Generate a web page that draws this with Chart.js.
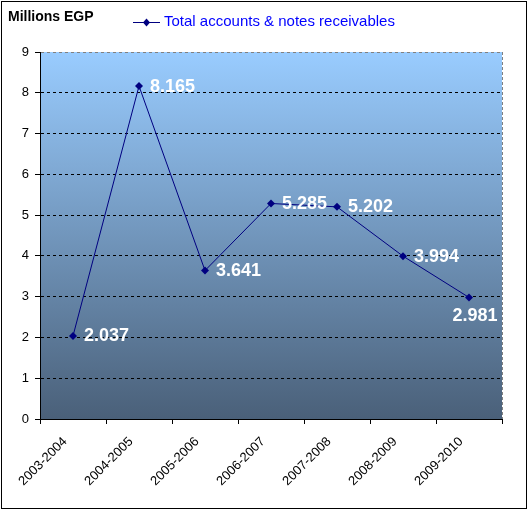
<!DOCTYPE html>
<html>
<head>
<meta charset="utf-8">
<style>
  html, body { margin: 0; padding: 0; background: #ffffff; }
  #wrap { position: relative; width: 528px; height: 511px; }
  canvas { display: block; }
</style>
<script src="https://cdn.jsdelivr.net/npm/chart.js@4"></script>
</head>
<body>
<div id="wrap"><canvas id="c" width="528" height="511"></canvas></div>
<script>
const categories = ["2003-2004", "2004-2005", "2005-2006", "2006-2007", "2007-2008", "2008-2009", "2009-2010"];
const seriesName = "Total accounts & notes receivables";
const seriesValues = [2.037, 8.165, 3.641, 5.285, 5.202, 3.994, 2.981];
const valueLabels = ["2.037", "8.165", "3.641", "5.285", "5.202", "3.994", "2.981"];
const axisTitle = "Millions EGP";
const yMin = 0, yMax = 9, yStep = 1;

const FONT = '"Liberation Sans", Arial, sans-serif';

const decorPlugin = {
  id: 'decor',
  beforeDraw(chart) {
    const ctx = chart.ctx;
    const a = chart.chartArea;
    ctx.save();
    ctx.fillStyle = '#ffffff';
    ctx.fillRect(0, 0, chart.width, chart.height);
    const g = ctx.createLinearGradient(0, a.top, 0, a.bottom);
    g.addColorStop(0, '#99CCFF');
    g.addColorStop(1, '#4A6079');
    ctx.fillStyle = g;
    ctx.fillRect(a.left, a.top, a.right - a.left, a.bottom - a.top);
    ctx.restore();
  },
  afterDraw(chart) {
    const ctx = chart.ctx;
    const a = chart.chartArea;
    ctx.save();
    ctx.strokeStyle = '#808080';
    ctx.lineWidth = 1;
    ctx.setLineDash([3, 2]);
    ctx.beginPath();
    ctx.moveTo(Math.round(a.right) + 0.5, a.top);
    ctx.lineTo(Math.round(a.right) + 0.5, a.bottom);
    ctx.stroke();
    ctx.setLineDash([]);
    ctx.strokeStyle = '#000000';
    ctx.strokeRect(1.5, 1.5, 525, 507);
    ctx.fillStyle = '#000000';
    ctx.font = 'bold 14px ' + FONT;
    ctx.textBaseline = 'middle';
    ctx.textAlign = 'left';
    ctx.fillText(axisTitle, 8, 17);
    const ly = 22;
    ctx.strokeStyle = '#000080';
    ctx.lineWidth = 1;
    ctx.beginPath();
    ctx.moveTo(133, ly + 0.5);
    ctx.lineTo(160, ly + 0.5);
    ctx.stroke();
    ctx.fillStyle = '#000080';
    ctx.beginPath();
    ctx.moveTo(146.5, ly - 3.5);
    ctx.lineTo(150, ly + 0.5);
    ctx.lineTo(146.5, ly + 4.5);
    ctx.lineTo(143, ly + 0.5);
    ctx.closePath();
    ctx.fill();
    ctx.fillStyle = '#0000FF';
    ctx.font = '15px ' + FONT;
    ctx.fillText(chart.data.datasets[0].label, 164, ly);
    ctx.restore();
  },
  afterDatasetsDraw(chart) {
    const ctx = chart.ctx;
    const meta = chart.getDatasetMeta(0);
    ctx.save();
    ctx.fillStyle = '#ffffff';
    ctx.font = 'bold 18px ' + FONT;
    ctx.textBaseline = 'middle';
    meta.data.forEach((pt, i) => {
      const txt = valueLabels[i];
      const w = ctx.measureText(txt).width;
      if (pt.x + 11 + w > chart.chartArea.right) {
        ctx.textAlign = 'center';
        ctx.fillText(txt, pt.x + 6, pt.y + 19);
      } else {
        ctx.textAlign = 'left';
        ctx.fillText(txt, pt.x + 11, pt.y + 0.5);
      }
    });
    ctx.restore();
  }
};

new Chart(document.getElementById('c'), {
  type: 'line',
  data: {
    labels: categories,
    datasets: [{
      label: seriesName,
      data: seriesValues,
      borderColor: '#000080',
      backgroundColor: '#000080',
      borderWidth: 1,
      pointStyle: 'rectRot',
      pointRadius: 4,
      pointHoverRadius: 4,
      pointBorderWidth: 0,
      pointBackgroundColor: '#000080',
      tension: 0,
      fill: false
    }]
  },
  options: {
    responsive: false,
    animation: false,
    devicePixelRatio: 1,
    layout: { padding: { left: 0, top: 52, right: 26, bottom: 0 } },
    plugins: {
      legend: { display: false },
      title: { display: false },
      tooltip: { enabled: false }
    },
    scales: {
      x: {
        type: 'category',
        offset: true,
        grid: {
          offset: true,
          drawOnChartArea: false,
          drawTicks: true,
          tickLength: 5,
          tickColor: '#000000',
          tickWidth: 1
        },
        border: { display: true, color: '#000000', width: 1 },
        ticks: {
          color: '#000000',
          font: { family: FONT, size: 13 },
          maxRotation: 45,
          minRotation: 45,
          autoSkip: false,
          padding: 10,
          labelOffset: -8
        },
        afterFit(scale) { scale.height = 92; }
      },
      y: {
        min: yMin,
        max: yMax,
        ticks: {
          stepSize: yStep,
          color: '#000000',
          font: { family: FONT, size: 13 },
          padding: 6
        },
        grid: {
          color: (c) => c.tick && c.tick.value === yMax ? '#808080' : (c.tick && c.tick.value === yMin ? 'rgba(0,0,0,0)' : '#000000'),
          lineWidth: 1,
          tickColor: '#000000',
          tickLength: 5,
          tickBorderDash: [],
          drawTicks: true
        },
        border: { display: true, color: '#000000', width: 1, dash: [3, 3] },
        afterFit(scale) { scale.width = 40; }
      }
    }
  },
  plugins: [decorPlugin]
});
</script>
</body>
</html>
